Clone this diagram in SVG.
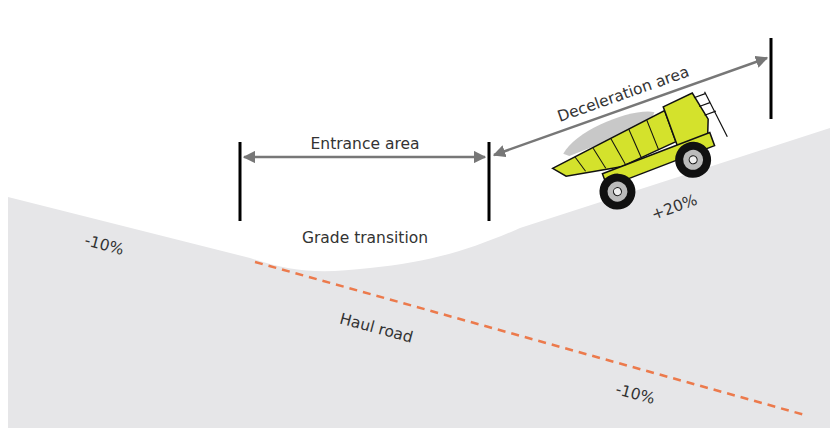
<svg xmlns="http://www.w3.org/2000/svg" width="840" height="439" viewBox="0 0 840 439">
<style>
text{font-family:"DejaVu Sans","Liberation Sans",sans-serif;font-size:15.5px;fill:#333}
.bar{stroke:#000;stroke-width:3}
.dim{stroke:#777;stroke-width:2.5;fill:none}
.tk{stroke:#111;stroke-width:1.5;fill:#d4e22c}
</style>
<defs>
<marker id="ah" viewBox="0 0 10 10" refX="9" refY="5" markerWidth="5" markerHeight="5" orient="auto-start-reverse"><path d="M0,0L10,5L0,10z" fill="#777"/></marker>
</defs>
<rect width="840" height="439" fill="#fff"/>
<g id="ground">
<path d="M8,197 L250,258 C290,272 320,274 370,268 C430,262 470,250 520,228 L830,128 L830,428 L8,428 Z" fill="#e6e6e8"/>
</g>
<g id="connectors">
<line x1="255" y1="262" x2="805" y2="415" stroke="#ec7a4c" stroke-width="2.5" stroke-dasharray="8,6"/>
<line class="dim" x1="244" y1="157" x2="485" y2="157" marker-start="url(#ah)" marker-end="url(#ah)"/>
<line class="dim" x1="494" y1="155" x2="767" y2="58" marker-start="url(#ah)" marker-end="url(#ah)"/>
</g>
<g id="bars">
<line class="bar" x1="240" y1="142" x2="240" y2="221"/>
<line class="bar" x1="489" y1="142" x2="489" y2="221"/>
<line class="bar" x1="771" y1="38" x2="771" y2="119"/>
</g>
<g id="truck" transform="translate(640,160) rotate(-20)">
<path d="M-70,-32 C-50,-50 10,-52 30,-40 L20,-30 L-65,-28 Z" fill="#c8c8c8"/>
<path class="tk" d="M-85,-22 L40,-38 L40,-5 L-20,0 L-75,-10 Z"/>
<path class="tk" d="M40,-42 L72,-45 L78,-15 L70,5 L40,5 Z"/>
<path class="tk" d="M-40,0 L75,-2 L75,12 L-40,14 Z"/>
<line x1="-60" y1="-25" x2="-55" y2="-8" stroke="#111"/>
<line x1="-40" y1="-27" x2="-35" y2="-4" stroke="#111"/>
<line x1="-20" y1="-30" x2="-15" y2="0" stroke="#111"/>
<line x1="0" y1="-33" x2="2" y2="-2" stroke="#111"/>
<line x1="20" y1="-35" x2="21" y2="-3" stroke="#111"/>
<path d="M72,-40 L84,-40 M74,-30 L86,-30 M76,-20 L88,-20 M84,-42 L90,8" stroke="#111" stroke-width="1.2" fill="none"/>
<g><circle cx="-32" cy="22" r="18" fill="#111"/><circle cx="-32" cy="22" r="11" fill="#bbb" stroke="#111" stroke-width="2"/><circle cx="-32" cy="22" r="4" fill="#eee" stroke="#111"/></g>
<g><circle cx="50" cy="18" r="18" fill="#111"/><circle cx="50" cy="18" r="11" fill="#bbb" stroke="#111" stroke-width="2"/><circle cx="50" cy="18" r="4" fill="#eee" stroke="#111"/></g>
</g>
<g id="labels">
<text x="365" y="149" text-anchor="middle">Entrance area</text>
<text x="365" y="243" text-anchor="middle">Grade transition</text>
<text x="625" y="99" text-anchor="middle" transform="rotate(-19.5 625 99)">Deceleration area</text>
<text x="103" y="250" text-anchor="middle" transform="rotate(15 103 250)">-10%</text>
<text x="676" y="212" text-anchor="middle" transform="rotate(-20 676 212)">+20%</text>
<text x="375" y="333" text-anchor="middle" transform="rotate(15 375 333)">Haul road</text>
<text x="634" y="399" text-anchor="middle" transform="rotate(15 634 399)">-10%</text>
</g>
</svg>
